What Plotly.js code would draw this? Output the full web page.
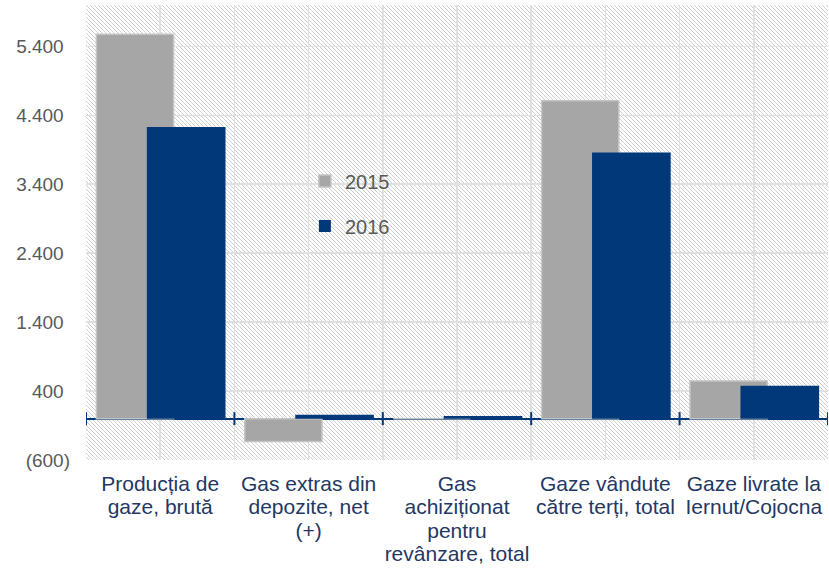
<!DOCTYPE html>
<html>
<head>
<meta charset="utf-8">
<script src="https://cdn.plot.ly/plotly-3.0.1.min.js"></script>
<style>
  html, body { margin: 0; padding: 0; background: #ffffff; }
  #wrap { position: relative; width: 829px; height: 569px; }
  #hatch {
    position: absolute; left: 86px; top: 5px; width: 742px; height: 455px; z-index: 0;
    background-color: #ffffff;
    background-image: url("data:image/svg+xml;utf8,<svg xmlns='http://www.w3.org/2000/svg' width='4' height='4' shape-rendering='crispEdges'><rect x='0' y='0' width='1' height='1' fill='%23cfcfcf'/><rect x='1' y='1' width='1' height='1' fill='%23cfcfcf'/><rect x='2' y='2' width='1' height='1' fill='%23cfcfcf'/><rect x='3' y='3' width='1' height='1' fill='%23cfcfcf'/></svg>");
    background-repeat: repeat;
    background-size: 4px 4px;
    image-rendering: pixelated;
  }
  #chart { position: absolute; left: 0; top: 0; width: 829px; height: 569px; z-index: 1; }
</style>
</head>
<body>
<div id="wrap">
  <div id="hatch"></div>
  <div id="chart"></div>
</div>
<script>
// ---- data ----
const categories = [
  "Producția de<br>gaze, brută",
  "Gas extras din<br>depozite, net<br>(+)",
  "Gas<br>achiziționat<br>pentru<br>revânzare, total",
  "Gaze vândute<br>către terți, total",
  "Gaze livrate la<br>Iernut/Cojocna"
];
const seriesNames = ["2015", "2016"];
const values2015 = [5575, -330, 0, 4610, 545];
const values2016 = [4230, 58, 38, 3860, 478];
const yTickValues = [-600, 400, 1400, 2400, 3400, 4400, 5400];
const yTickLabels = ["(600)", "400", "1.400", "2.400", "3.400", "4.400", "5.400"];

// ---- layout helpers ----
const idx = categories.map((_, i) => i);
const xTickVals = [];
const xTickText = [];
categories.forEach((c, i) => {
  xTickVals.push(i - 0.5, i);
  xTickText.push("", '<span style="font-size:21px">' + c + '</span>');
});
xTickVals.push(categories.length - 0.5);
xTickText.push("");

const yTickText = yTickLabels.map(t =>
  t.startsWith("(") ? t : t + '<span style="color:rgba(0,0,0,0)">)</span>');

const navy = "#00387a";
const FONT = "'Liberation Sans', Arial, sans-serif";

const traces = [
  {
    type: "bar", name: seriesNames[0], x: idx, y: values2015,
    offset: -0.43, width: 0.52,
    marker: { color: "#a6a6a6", line: { color: "#c4c4c4", width: 1.5 } },
    legendgroup: "a", hoverinfo: "y"
  },
  {
    type: "bar", name: seriesNames[1], x: idx, y: values2016,
    offset: -0.09, width: 0.53,
    marker: { color: navy, line: { color: navy, width: 0 } },
    legendgroup: "b", hoverinfo: "y"
  }
];

const shapes = [];
for (let i = 0; i <= categories.length; i++) {
  shapes.push({
    type: "line", xref: "x", yref: "y", ysizemode: "pixel", yanchor: 0,
    x0: i - 0.5, x1: i - 0.5, y0: -6.5, y1: 6.5,
    line: { color: navy, width: 2 }, layer: "above"
  });
}

const layout = {
  width: 829, height: 569,
  margin: { l: 86, r: 1, t: 5, b: 109 },
  paper_bgcolor: "rgba(0,0,0,0)",
  plot_bgcolor: "rgba(0,0,0,0)",
  barmode: "overlay",
  showlegend: true,
  font: { family: FONT },
  legend: {
    x: 0.295, y: 0.656, xanchor: "left", yanchor: "top",
    bgcolor: "rgba(0,0,0,0)",
    font: { family: FONT, size: 20, color: "#595959" },
    traceorder: "grouped", tracegroupgap: 16
  },
  xaxis: {
    range: [-0.5, categories.length - 0.5],
    tickmode: "array", tickvals: xTickVals, ticktext: xTickText,
    showgrid: true, gridcolor: "#e0e0e0", gridwidth: 1.5,
    zeroline: false, showline: false, ticks: "",
    tickfont: { family: FONT, size: 18, color: "#1f3864" },
    ticklabelstandoff: 12,
    fixedrange: true
  },
  yaxis: {
    range: [-600, 6000],
    tickmode: "array", tickvals: yTickValues, ticktext: yTickText,
    showgrid: true, gridcolor: "#e0e0e0", gridwidth: 1.5,
    zeroline: true, zerolinecolor: navy, zerolinewidth: 2,
    showline: false, ticks: "",
    tickfont: { family: FONT, size: 19, color: "#595959" },
    ticklabelstandoff: 15,
    fixedrange: true
  },
  shapes: shapes
};

Plotly.newPlot("chart", traces, layout, { displayModeBar: false, staticPlot: true }).then(gd => {
  const s = gd._fullLayout._size;
  const h = document.getElementById("hatch");
  h.style.left = s.l + "px";
  h.style.top = s.t + "px";
  h.style.width = s.w + "px";
  h.style.height = s.h + "px";
});
</script>
</body>
</html>
